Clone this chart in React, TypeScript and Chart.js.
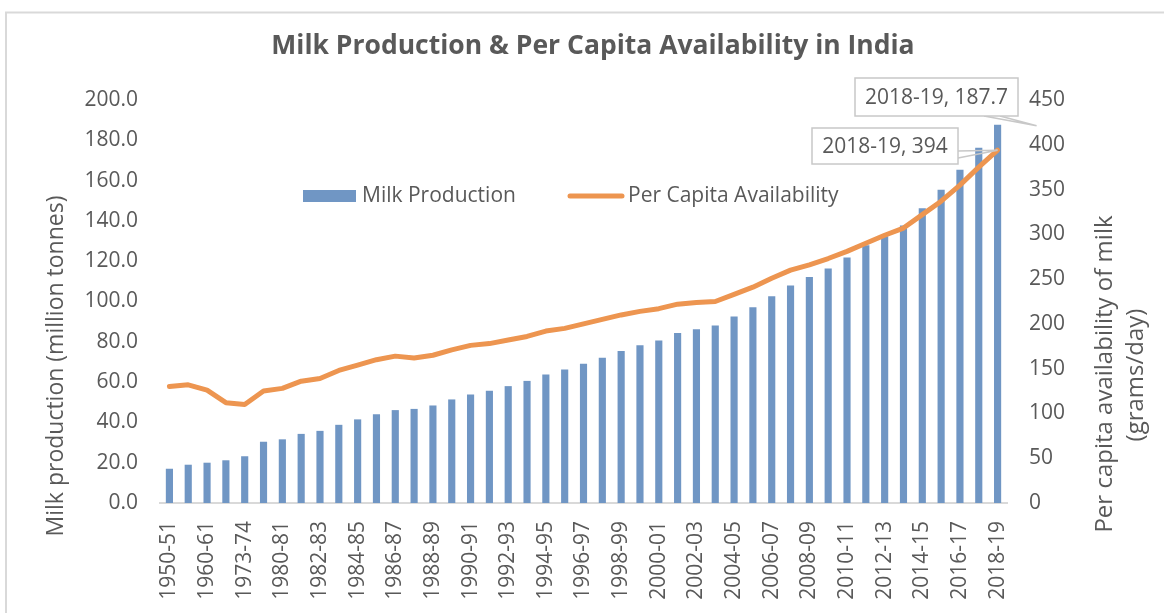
import { useEffect, useRef } from "react";
import { Chart, registerables } from "chart.js";

Chart.register(...registerables);

const categories = [
  "1950-51", "1955-56", "1960-61", "1968-69", "1973-74", "1979-80", "1980-81", "1981-82",
  "1982-83", "1983-84", "1984-85", "1985-86", "1986-87", "1987-88", "1988-89", "1989-90",
  "1990-91", "1991-92", "1992-93", "1993-94", "1994-95", "1995-96", "1996-97", "1997-98",
  "1998-99", "1999-00", "2000-01", "2001-02", "2002-03", "2003-04", "2004-05", "2005-06",
  "2006-07", "2007-08", "2008-09", "2009-10", "2010-11", "2011-12", "2012-13", "2013-14",
  "2014-15", "2015-16", "2016-17", "2017-18", "2018-19",
];

const milkProduction = [
  17.0, 19.0, 20.0, 21.2, 23.2, 30.4, 31.6, 34.3, 35.8, 38.8, 41.5, 44.0, 46.1, 46.7, 48.4,
  51.4, 53.9, 55.7, 58.0, 60.6, 63.8, 66.2, 69.1, 72.1, 75.4, 78.3, 80.6, 84.4, 86.2, 88.1,
  92.5, 97.1, 102.6, 107.9, 112.2, 116.4, 121.8, 127.9, 132.4, 137.7, 146.3, 155.5, 165.4,
  176.3, 187.7,
];

const perCapita = [
  130, 132, 126, 112, 110, 125, 128, 136, 139, 148, 154, 160, 164, 162, 165, 171, 176, 178,
  182, 186, 192, 195, 200, 205, 210, 214, 217, 222, 224, 225, 233, 241, 251, 260, 266, 273,
  281, 290, 299, 307, 322, 337, 355, 375, 394,
];

const chartTitle = "Milk Production & Per Capita Availability in India";
const leftAxisTitle = "Milk production (million tonnes)";
const rightAxisTitle = ["Per capita availability of milk", "(grams/day)"];
const barLabel = "Milk Production";
const lineLabel = "Per Capita Availability";

const TEXT = "#595959";
const FONT = "'Open Sans', sans-serif";
const BAR_COLOR = "#7096C4";
const LINE_COLOR = "#ED9550";
const FRAME = "#d9d9d9";

const overlayPlugin = {
  id: "overlay",
  afterDraw(chart: any) {
    const ctx = chart.ctx as CanvasRenderingContext2D;
    const xs = chart.scales.x;
    const yl = chart.scales.y;
    const yr = chart.scales.y1;
    ctx.save();

    // frame
    ctx.strokeStyle = FRAME;
    ctx.lineWidth = 2;
    ctx.beginPath();
    ctx.moveTo(6, 613);
    ctx.lineTo(6, 12.5);
    ctx.lineTo(1164, 12.5);
    ctx.stroke();

    // title
    ctx.fillStyle = TEXT;
    ctx.font = `bold 26.5px ${FONT}`;
    ctx.textAlign = "center";
    ctx.textBaseline = "middle";
    ctx.fillText(chartTitle, 593, 46);

    // axis titles
    ctx.font = `23px ${FONT}`;
    ctx.save();
    ctx.translate(56, 366);
    ctx.rotate(-Math.PI / 2);
    ctx.fillText(leftAxisTitle, 0, 0);
    ctx.restore();
    ctx.font = `24px ${FONT}`;
    ctx.save();
    ctx.translate(1105, 374);
    ctx.rotate(-Math.PI / 2);
    ctx.fillText(rightAxisTitle[0], 0, 0);
    ctx.restore();
    ctx.save();
    ctx.translate(1136, 375);
    ctx.rotate(-Math.PI / 2);
    ctx.fillText(rightAxisTitle[1], 0, 0);
    ctx.restore();

    // legend
    ctx.font = `21px ${FONT}`;
    ctx.textAlign = "left";
    ctx.fillStyle = BAR_COLOR;
    ctx.fillRect(303, 190, 53, 12);
    ctx.fillStyle = TEXT;
    ctx.fillText(barLabel, 362, 196);
    ctx.strokeStyle = LINE_COLOR;
    ctx.lineWidth = 5;
    ctx.lineCap = "round";
    ctx.beginPath();
    ctx.moveTo(570, 196);
    ctx.lineTo(622, 196);
    ctx.stroke();
    ctx.fillText(lineLabel, 628, 196);

    // annotations
    const last = categories.length - 1;
    const px = xs.getPixelForValue(last);
    const barTop = yl.getPixelForValue(milkProduction[last]);
    const lineY = yr.getPixelForValue(perCapita[last]);

    ctx.lineCap = "butt";
    ctx.lineWidth = 1.5;
    ctx.strokeStyle = "#c8c8c8";
    // box 1 callout
    ctx.beginPath();
    ctx.moveTo(984, 116);
    ctx.lineTo(px + 39, barTop + 1);
    ctx.lineTo(1000, 116);
    ctx.stroke();
    ctx.fillStyle = "#ffffff";
    ctx.fillRect(855, 78, 163, 38);
    ctx.strokeRect(855, 78, 163, 38);
    ctx.fillStyle = TEXT;
    ctx.textAlign = "center";
    ctx.fillText(`${categories[last]}, ${milkProduction[last].toFixed(1)}`, 936.5, 98);

    // box 2 callout
    ctx.beginPath();
    ctx.moveTo(958, 151);
    ctx.lineTo(px, lineY);
    ctx.lineTo(958, 158);
    ctx.stroke();
    ctx.fillStyle = "#ffffff";
    ctx.fillRect(812, 128, 146, 36);
    ctx.strokeRect(812, 128, 146, 36);
    ctx.fillStyle = TEXT;
    ctx.fillText(`${categories[last]}, ${perCapita[last]}`, 885, 147);

    ctx.restore();
  },
};

export default function App() {
  const canvasRef = useRef<HTMLCanvasElement | null>(null);

  useEffect(() => {
    document.body.style.margin = "0";
    const canvas = canvasRef.current;
    if (!canvas) return;
    const tickFont = { family: FONT, size: 21 };
    const chart = new Chart(canvas, {
      type: "bar",
      data: {
        labels: categories,
        datasets: [
          {
            type: "line",
            label: lineLabel,
            data: perCapita,
            yAxisID: "y1",
            borderColor: LINE_COLOR,
            backgroundColor: LINE_COLOR,
            borderWidth: 5,
            pointRadius: 0,
            tension: 0,
            borderCapStyle: "round",
            borderJoinStyle: "round",
            order: 0,
          } as any,
          {
            type: "bar",
            label: barLabel,
            data: milkProduction,
            yAxisID: "y",
            backgroundColor: BAR_COLOR,
            barPercentage: 0.38,
            categoryPercentage: 1,
            order: 1,
          } as any,
        ],
      },
      options: {
        responsive: false,
        animation: false,
        layout: { padding: { top: 100, left: 0, right: 0, bottom: 0 } },
        plugins: {
          legend: { display: false },
          title: { display: false },
          tooltip: { enabled: false },
        },
        scales: {
          x: {
            grid: { display: false, drawTicks: false },
            border: { display: true, color: FRAME, width: 2 },
            ticks: {
              autoSkip: false,
              maxRotation: 90,
              minRotation: 90,
              padding: 18,
              color: TEXT,
              font: tickFont,
              callback: function (this: any, v: any, i: number) {
                return i % 2 === 0 ? this.getLabelForValue(v) : "";
              },
            },
            afterFit: (s: any) => {
              s.height = 110;
            },
          },
          y: {
            position: "left",
            min: 0,
            max: 200,
            grid: { display: false, drawTicks: false },
            border: { display: false },
            ticks: {
              stepSize: 20,
              padding: 22,
              color: TEXT,
              font: tickFont,
              callback: (v: any) => Number(v).toFixed(1),
            },
            afterFit: (s: any) => {
              s.width = 160;
            },
          },
          y1: {
            position: "right",
            min: 0,
            max: 450,
            grid: { display: false, drawTicks: false },
            border: { display: false },
            ticks: {
              stepSize: 50,
              padding: 22,
              color: TEXT,
              font: tickFont,
            },
            afterFit: (s: any) => {
              s.width = 157;
            },
          },
        },
      } as any,
      plugins: [overlayPlugin],
    });
    return () => chart.destroy();
  }, []);

  return (
    <div style={{ width: 1164, height: 613, position: "relative" }}>
      <canvas ref={canvasRef} width={1164} height={613} style={{ display: "block" }} />
    </div>
  );
}
